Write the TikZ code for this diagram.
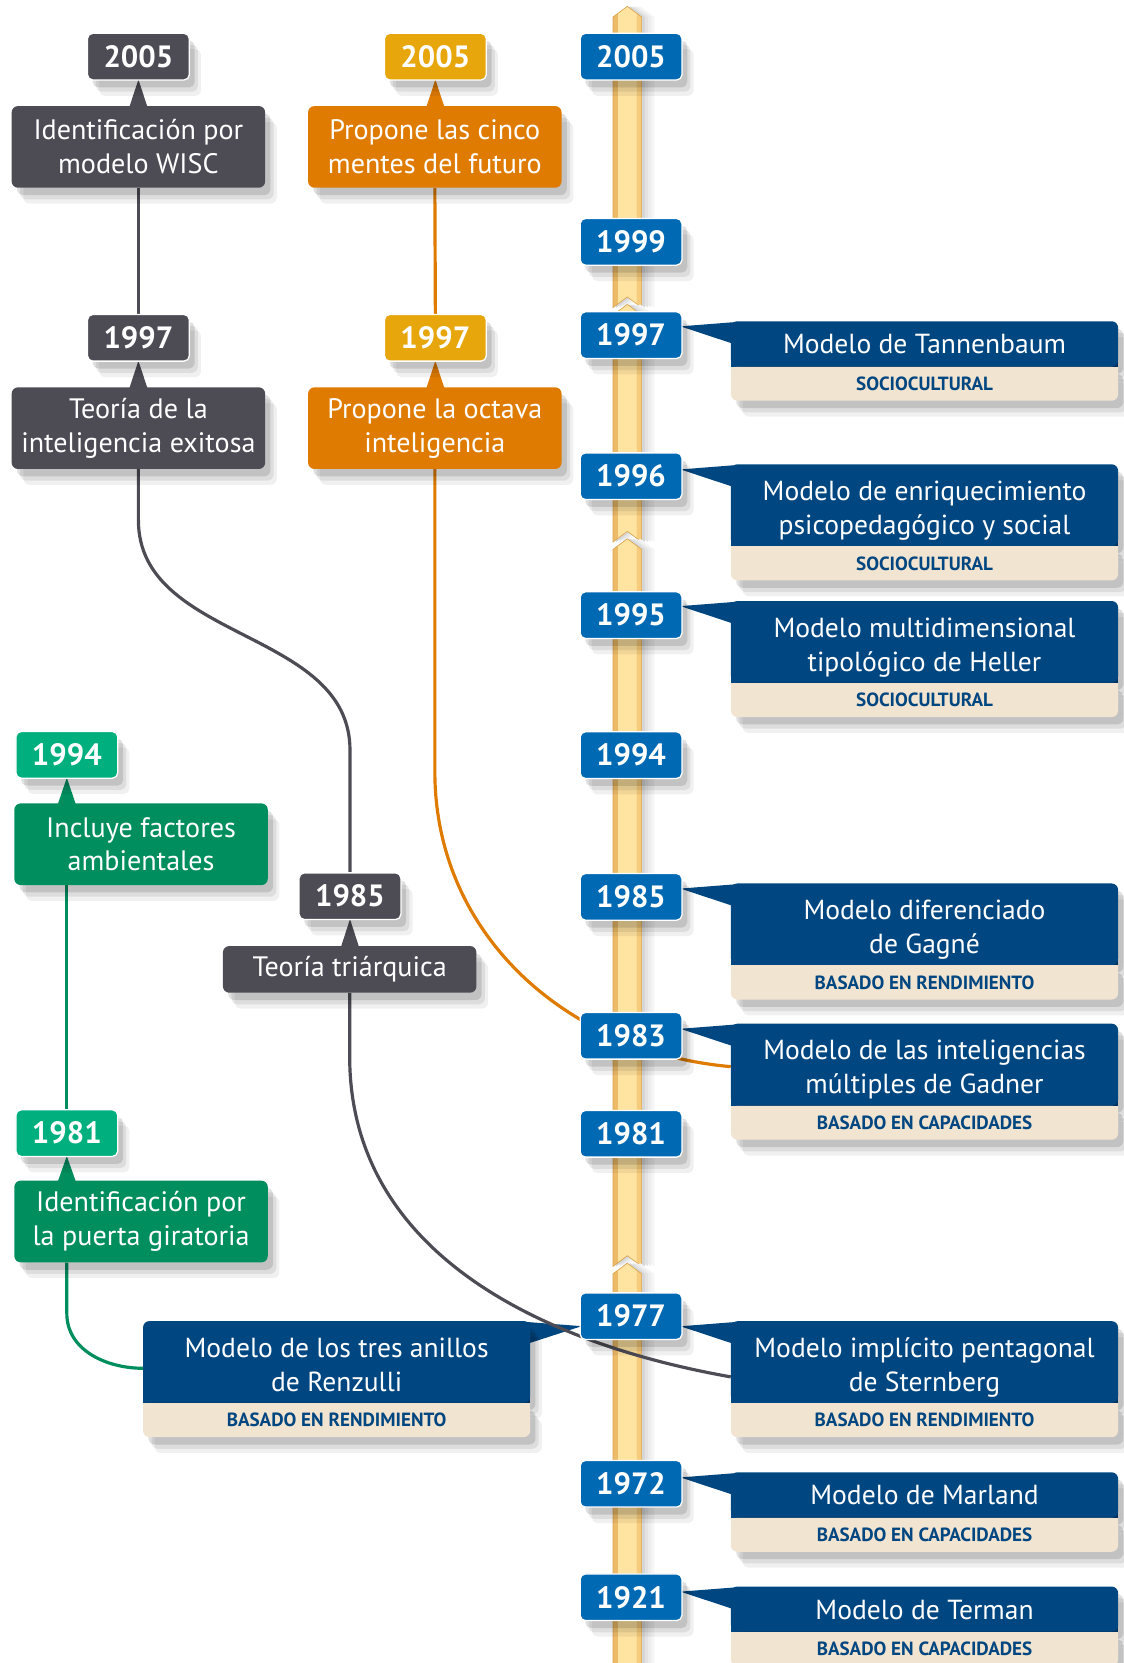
\documentclass[tikz,border=0pt]{standalone}
\usepackage{fontspec}
\setmainfont{PT Sans}
\usetikzlibrary{calc, positioning, shadows}

\definecolor{yearblue}{HTML}{0069B4}
\definecolor{navy}{HTML}{004680}
\definecolor{beige}{HTML}{F1E4D0}
\definecolor{slate}{HTML}{4D4C55}
\definecolor{gold}{HTML}{E6A60C}
\definecolor{amber}{HTML}{DE7B00}
\definecolor{mint}{HTML}{00AF7E}
\definecolor{jade}{HTML}{008E5F}
\definecolor{barleft}{HTML}{EDBB68}
\definecolor{barmid}{HTML}{FFE3A0}
\definecolor{barright}{HTML}{F6CB7C}
\definecolor{barline}{HTML}{D9A451}

\pgfdeclarelayer{back}
\pgfsetlayers{back,main}

\begin{document}
\begin{tikzpicture}[x=1pt, y=-1pt,
    boxshadow/.style={drop shadow={shadow xshift=11pt, shadow yshift=-15pt, opacity=0.06, fill=black},
        drop shadow={shadow xshift=8pt, shadow yshift=-11pt, opacity=0.08, fill=black},
        drop shadow={shadow xshift=5pt, shadow yshift=-7pt, opacity=0.12, fill=black}},
    yearbox/.style={boxshadow, rounded corners=5pt, draw=white, line width=1.2pt, minimum width=96pt, minimum height=44pt, inner sep=0pt, text=white, font=\fontsize{29}{30}\selectfont\bfseries},
    eventbox/.style={boxshadow, rounded corners=6pt, minimum width=239pt, minimum height=77pt, inner sep=0pt, align=center, text=white, font=\fontsize{26.5}{32}\selectfont},
    titlebox/.style={boxshadow, fill=navy, rounded corners=6pt, minimum width=365pt, minimum height=77pt, inner sep=0pt, align=center, text=white, font=\fontsize{26}{32}\selectfont, anchor=north west, text height=61pt, text depth=6pt},
    oneline/.style={minimum height=42.5pt, text height=25pt},
    tagbox/.style={boxshadow, fill=beige, rounded corners=6pt, minimum width=365pt, minimum height=32pt, inner sep=0pt, text=navy, font=\fontsize{18}{20}\selectfont\bfseries, below=0pt of #1},
    link/.style={line width=3pt}]

    \useasboundingbox (0,0) rectangle (1059,1568);

    \begin{pgfonlayer}{back}
        \foreach \ya/\yb in {6/290, 287/511, 508/1194, 1191/1600} {
            \foreach \s/\g in {12/4, 9/7, 6/11, 3/16}
                \fill[black!\g] (591.5+\s,\ya) -- (605+\s,\ya+10) -- (605+\s,\yb) -- (591.5+\s,\yb-10) -- (578+\s,\yb) -- (578+\s,\ya+10) -- cycle;
            \fill[barmid] (591.5,\ya) -- (605,\ya+10) -- (605,\yb) -- (591.5,\yb-10) -- (578,\yb) -- (578,\ya+10) -- cycle;
            \fill[barleft] (591.5,\ya) -- (582.5,\ya+6.7) -- (582.5,\yb-3.3) -- (578,\yb) -- (578,\ya+10) -- cycle;
            \fill[barright] (605,\ya+10) -- (605,\yb) -- (600.5,\yb-3.3) -- (600.5,\ya+6.7) -- cycle;
            \draw[barline, line width=0.6pt] (591.5,\ya) -- (605,\ya+10) -- (605,\yb) -- (591.5,\yb-10) -- (578,\yb) -- (578,\ya+10) -- cycle;
        }
    \end{pgfonlayer}

    \foreach \yr/\yy in {2005/53.4, 1999/228, 1997/316, 1996/449, 1995/580, 1994/712, 1985/845.6, 1983/976.6, 1981/1069, 1977/1241, 1972/1399, 1921/1506}
        \node[yearbox, fill=yearblue] (b\yr) at (595,\yy) {\yr};

    \node[yearbox, fill=slate] (g2005) at (130.5,53.4) {2005};
    \node[eventbox, fill=slate] (wisc) at (130.5,138.5) {Identificación por\\modelo WISC};
    \node[yearbox, fill=slate] (g1997) at (130.5,318.5) {1997};
    \node[eventbox, fill=slate] (exitosa) at (130.5,403.7) {Teoría de la\\inteligencia exitosa};
    \node[yearbox, fill=slate] (g1985) at (330,845) {1985};
    \node[eventbox, fill=slate, minimum height=44pt] (triarq) at (329.7,914) {Teoría triárquica};

    \node[yearbox, fill=gold] (o2005) at (410.5,53.4) {2005};
    \node[eventbox, fill=amber] (cinco) at (410,138.5) {Propone las cinco\\mentes del futuro};
    \node[yearbox, fill=gold] (o1997) at (410.5,318.5) {1997};
    \node[eventbox, fill=amber] (octava) at (410,403.7) {Propone la octava\\inteligencia};

    \node[yearbox, fill=mint] (v1994) at (63,711.7) {1994};
    \node[eventbox, fill=jade] (incluye) at (133,796) {Incluye factores\\ambientales};
    \node[yearbox, fill=mint] (v1981) at (63,1068.4) {1981};
    \node[eventbox, fill=jade] (puerta) at (133,1151.7) {Identificación por\\la puerta giratoria};

    \node[titlebox, oneline] (tann) at (689,302.7) {Modelo de Tannenbaum};
    \node[tagbox=tann] (tann-t) {SOCIOCULTURAL};
    \node[titlebox] (enri) at (689,437.6) {Modelo de enriquecimiento\\psicopedagógico y social};
    \node[tagbox=enri] (enri-t) {SOCIOCULTURAL};
    \node[titlebox] (hell) at (689,566.5) {Modelo multidimensional\\tipológico de Heller};
    \node[tagbox=hell] (hell-t) {SOCIOCULTURAL};
    \node[titlebox] (gagn) at (689,832.8) {Modelo diferenciado\\de Gagné};
    \node[tagbox=gagn] (gagn-t) {BASADO EN RENDIMIENTO};
    \node[titlebox] (gadn) at (689,965) {Modelo de las inteligencias\\múltiples de Gadner};
    \node[tagbox=gadn] (gadn-t) {BASADO EN CAPACIDADES};
    \node[titlebox] (ster) at (689,1245.5) {Modelo implícito pentagonal\\de Sternberg};
    \node[tagbox=ster] (ster-t) {BASADO EN RENDIMIENTO};
    \node[titlebox, oneline] (marl) at (689,1388) {Modelo de Marland};
    \node[tagbox=marl] (marl-t) {BASADO EN CAPACIDADES};
    \node[titlebox, oneline] (term) at (689,1495.7) {Modelo de Terman};
    \node[tagbox=term] (term-t) {BASADO EN CAPACIDADES};
    \node[titlebox] (renz) at (134.7,1245.4) {Modelo de los tres anillos\\de Renzulli};
    \node[tagbox=renz] (renz-t) {BASADO EN RENDIMIENTO};

    \foreach \m in {tann, enri, hell, gagn, gadn, ster, marl, term, renz} {
        \begin{pgfonlayer}{back}
            \fill[navy] ([yshift=8pt]\m.south west) rectangle (\m.south east);
        \end{pgfonlayer}
        \fill[beige] (\m-t.north west) rectangle ([yshift=-8pt]\m-t.north east);
    }

    \begin{pgfonlayer}{back}
        \foreach \yr/\m in {1997/tann, 1996/enri, 1995/hell, 1985/gagn, 1983/gadn, 1977/ster, 1972/marl, 1921/term}
            \fill[navy] ($(b\yr.east |- \m.north)+(-2,5)$) -- ($(\m.north west)+(4,1)$) -- ($(\m.north west)+(4,22)$) -- cycle;
        \fill[navy] ($(b1977.west |- renz.north)+(2,5)$) -- ($(renz.north east)+(-4,1)$) -- ($(renz.north east)+(-4,22)$) -- cycle;

        \foreach \y/\e/\c in {g2005/wisc/slate, g1997/exitosa/slate, g1985/triarq/slate, o2005/cinco/amber, o1997/octava/amber, v1994/incluye/jade, v1981/puerta/jade}
            \fill[\c] ($(\y.south)+(0,-1)$) -- ($(\y.south |- \e.north)+(-8.5,1)$) -- ($(\y.south |- \e.north)+(8.5,1)$) -- cycle;

        \draw[link, slate] (wisc.south) -- (g1997.north);
        \draw[link, slate] (exitosa.south) -- ++(0,48) to[out=-90, in=90] ($(g1985.north)+(0,-115)$) -- (g1985.north);
        \draw[link, slate] (triarq.south) -- ++(0,60) to[out=-90, in=170] ($(ster.west)+(0,14)$);
        \draw[link, amber] (cinco.south) -- (o1997.north);
        \draw[link, amber] (octava.south) -- ++(0,285) to[out=-90, in=175] ($(gadn.west)+(0,2)$);
        \draw[link, jade] (incluye.south -| v1981.north) -- (v1981.north);
        \draw[link, jade] (puerta.south -| v1981.south) -- ++(0,48) to[out=-90, in=180] ($(renz.west)+(0,6)$);
    \end{pgfonlayer}
\end{tikzpicture}
\end{document}
